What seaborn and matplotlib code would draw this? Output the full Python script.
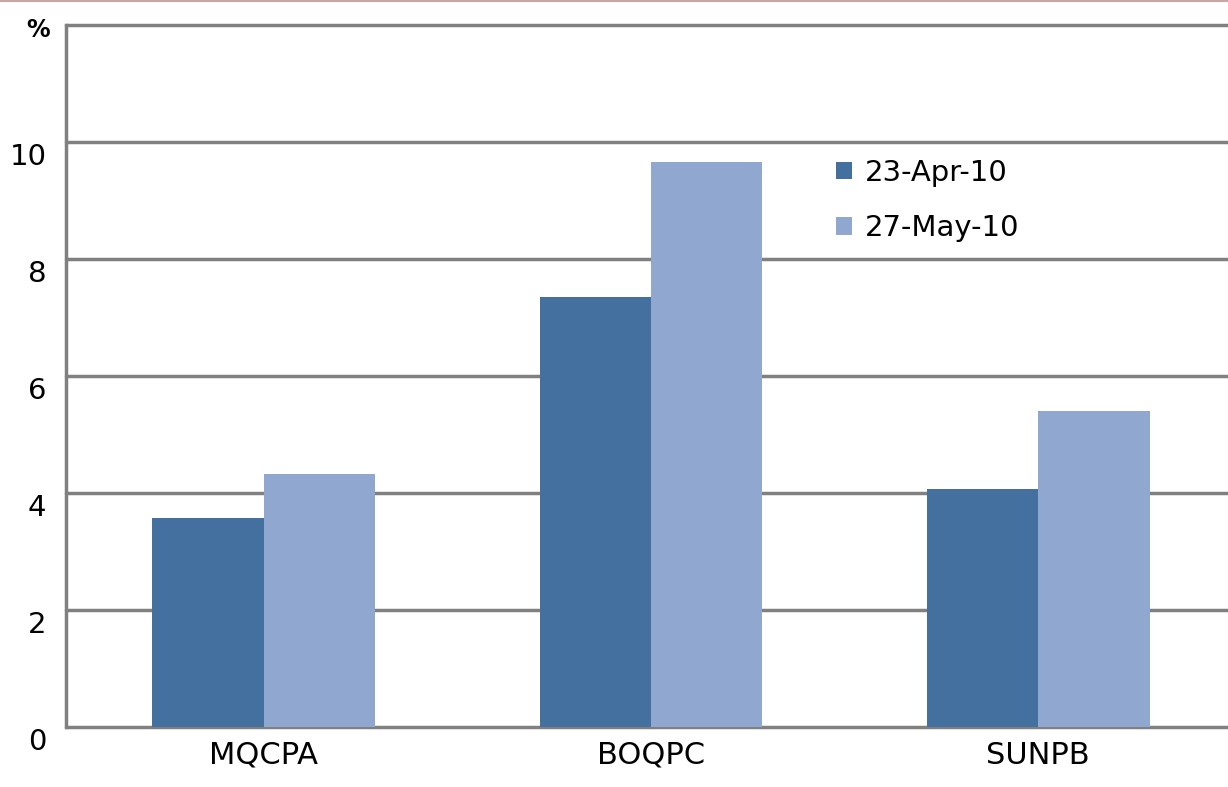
import matplotlib
matplotlib.use('Agg')
import matplotlib.pyplot as plt
import matplotlib.transforms as mtransforms
from matplotlib.lines import Line2D
import pandas as pd
import seaborn as sns

# values
categories = ['MQCPA', 'BOQPC', 'SUNPB']
apr_values = [3.58, 7.35, 4.06]
may_values = [4.33, 9.66, 5.41]
series_names = ['23-Apr-10', '27-May-10']
y_ticks = [0, 2, 4, 6, 8, 10, 12]
y_tick_labels = ['0', '2', '4', '6', '8', '10', '']

df = pd.DataFrame({
    'stock': categories * 2,
    'value': apr_values + may_values,
    'date': [series_names[0]] * 3 + [series_names[1]] * 3,
})

sns.set_style('white')
plt.rcParams['font.family'] = ['DejaVu Sans']
plt.rcParams['text.color'] = 'black'

fig = plt.figure(figsize=(12.28, 7.87), dpi=100)
ax = fig.add_axes([66 / 1228, 60 / 787, 1 - 66 / 1228, 702 / 787])

sns.barplot(data=df, x='stock', y='value', hue='date', ax=ax,
            palette=['#43709f', '#90a8cf'], width=0.575,
            saturation=1, linewidth=0)

ax.set_ylim(0, 12)
ax.set_xlim(-0.51, 2.49)
ax.set_yticks(y_ticks)
ax.set_yticklabels(y_tick_labels, fontsize=21)
ax.yaxis.grid(True, color='#808080', linewidth=2.5)
for gl in ax.get_ygridlines():
    gl.set_clip_on(False)
ax.set_axisbelow(True)
ax.tick_params(axis='both', length=0, pad=14, labelcolor='black')
ax.tick_params(axis='x', labelsize=22, pad=10)
ax.set_xlabel('')
ax.set_ylabel('')

# shift y labels slightly below gridlines like the original
offset = mtransforms.ScaledTranslation(0, -12 / 100, fig.dpi_scale_trans)
for lab in ax.get_yticklabels():
    lab.set_transform(lab.get_transform() + offset)

for side in ['top', 'right', 'bottom']:
    ax.spines[side].set_visible(False)
ax.spines['left'].set_color('#808080')
ax.spines['left'].set_linewidth(2.5)

leg = ax.legend(title=None, frameon=False, fontsize=21,
                loc='upper left', bbox_to_anchor=(0.64, 0.847),
                handlelength=0.55, handleheight=0.55, handletextpad=0.45,
                labelspacing=0.95)
for t in leg.get_texts():
    t.set_color('black')

fig.text(38 / 1228, 1 - 30 / 787, '%', fontsize=17, fontweight='bold',
         ha='center', va='center')

fig.add_artist(Line2D([0, 1], [0.999, 0.999], color='#c9a5a5',
                      linewidth=1.5, transform=fig.transFigure))

plt.savefig('out.png', dpi=100)
